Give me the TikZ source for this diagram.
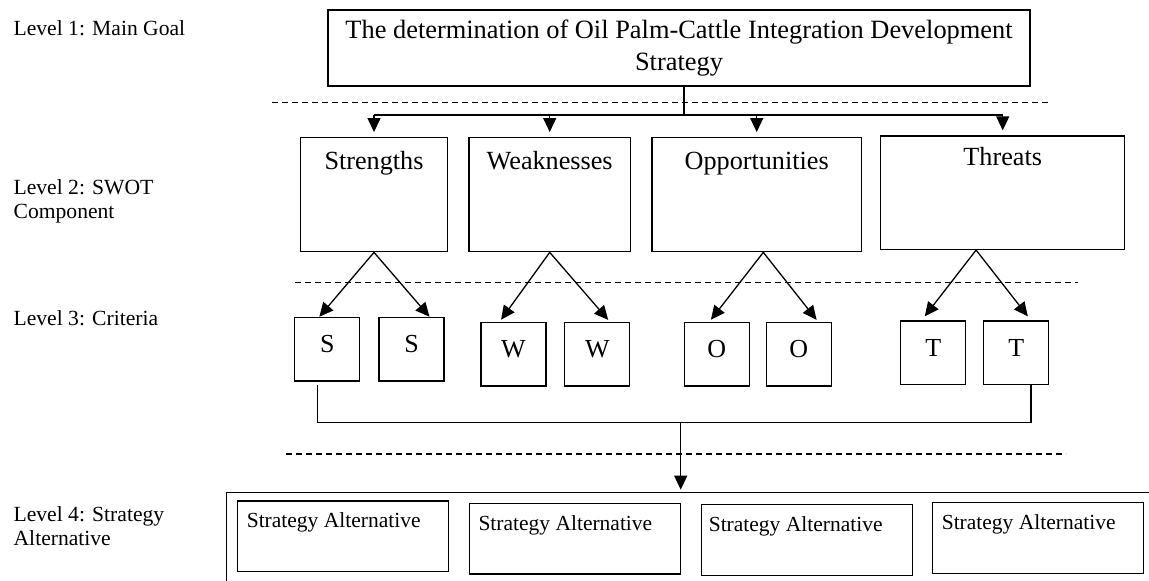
\documentclass[tikz,border=0pt]{standalone}
\usepackage{fontspec}
\setmainfont{Liberation Serif}
\usetikzlibrary{arrows.meta,calc}

\begin{document}
\begin{tikzpicture}[x=0.5pt,y=-0.5pt,line width=0.65pt,
  plainbox/.style={draw,rectangle,inner sep=0pt},
  goalbox/.style={plainbox,minimum width=351pt,minimum height=38pt,align=center,font=\fontsize{13.2}{16}\selectfont},
  swotbox/.style={plainbox,minimum height=57pt},
  swottext/.style={anchor=base,inner sep=0pt,yshift=-16pt,font=\fontsize{13.1}{15}\selectfont},
  critbox/.style={plainbox,minimum width=32.5pt,minimum height=31.8pt,text depth=5pt,font=\fontsize{13}{15}\selectfont},
  altbox/.style={plainbox,minimum width=105.5pt,minimum height=35.3pt},
  alttext/.style={anchor=base west,inner sep=0pt,xshift=4.5pt,yshift=-13.6pt,font=\fontsize{10.75}{12}\selectfont},
  lvl/.style={anchor=west,inner sep=0pt,align=left,font=\fontsize{10.8}{12}\selectfont},
  arr/.style={-{Triangle[width=6.5pt,length=7pt]}},
  levelsep/.style={dash pattern=on 3pt off 2pt,line width=0.6pt}]
  \clip (0,0) rectangle (1149,580);

  % level labels
  \node[lvl] (l1) at (13,28) {Level 1: Main Goal};
  \node[lvl] (l2) at (13,201.3) {Level 2: SWOT\\Component};
  \node[lvl] (l3) at (13,318) {Level 3: Criteria};
  \node[lvl] (l4) at (13,526.5) {Level 4: Strategy\\Alternative};

  % main goal
  \node[goalbox] (goal) at (679,48) {The determination of Oil Palm-Cattle Integration Development\\Strategy};

  % swot components
  \node[swotbox,minimum width=73.3pt,label={[swottext]north:Strengths}] (str) at (374,194.7) {};
  \node[swotbox,minimum width=80.7pt,label={[swottext]north:Weaknesses}] (wea) at (549.7,194.7) {};
  \node[swotbox,minimum width=104.7pt,label={[swottext]north:Opportunities}] (opp) at (756.7,194.7) {};
  \node[swotbox,minimum width=122pt,minimum height=56.7pt,label={[swottext,yshift=0.7pt]north:Threats}] (thr) at (1002.7,192.7) {};

  % criteria
  \node[critbox] (s1) at (327.3,349.2) {S};
  \node[critbox] (s2) at (411.5,349.2) {S};
  \node[critbox] (w1) at (513.5,354.3) {W};
  \node[critbox] (w2) at (597.3,354.3) {W};
  \node[critbox] (o1) at (716.7,354.3) {O};
  \node[critbox] (o2) at (798.8,354.3) {O};
  \node[critbox] (t1) at (933.3,352.7) {T};
  \node[critbox] (t2) at (1016.3,352.7) {T};

  % strategy alternatives
  \node[plainbox,minimum width=470pt,minimum height=60pt] (alts) at (696.7,552.3) {};
  \node[altbox,label={[alttext]north west:Strategy Alternative}] (a1) at (343.3,536.3) {};
  \node[altbox,label={[alttext]north west:Strategy Alternative}] (a2) at (575,538.8) {};
  \node[altbox,label={[alttext,xshift=-0.7pt]north west:Strategy Alternative}] (a3) at (806.7,540) {};
  \node[altbox,label={[alttext]north west:Strategy Alternative}] (a4) at (1038.3,538) {};

  % dashed level separators
  \draw[levelsep] (272,102.7) -- (1051.7,102.7);
  \draw[levelsep] (295,282.7) -- (1078,282.7);
  \draw[levelsep] (286,454) -- (1066,454);

  % goal to components
  \coordinate (bus) at (684,115);
  \draw (goal.south -| bus) -- (bus);
  \draw (bus -| str) -- (bus -| thr);
  \draw[arr,shorten >=2.5pt] (bus -| str) -- (str);
  \draw[arr,shorten >=2.5pt] (bus -| wea) -- (wea);
  \draw[arr,shorten >=2.5pt] (bus -| opp) -- (opp);
  \draw[arr,shorten >=2.5pt] (bus -| thr) -- (thr);

  % components to criteria
  \draw[arr] (str.south) -- ([xshift=-4pt]s1.north);
  \draw[arr] (str.south) -- ([xshift=9pt]s2.north);
  \draw[arr,shorten >=1.3pt] (wea.south) -- ([xshift=-7pt]w1.north);
  \draw[arr,shorten >=1.3pt] (wea.south) -- ([xshift=6.3pt]w2.north);
  \draw[arr,shorten >=1.3pt] ([xshift=3.3pt]opp.south) -- ([xshift=-3.7pt]o1.north);
  \draw[arr,shorten >=1.3pt] ([xshift=3.3pt]opp.south) -- ([xshift=9.7pt]o2.north);
  \draw[arr,shorten >=2.5pt] ([xshift=-13.3pt]thr.south) -- ([xshift=-5.8pt]t1.north);
  \draw[arr,shorten >=2.5pt] ([xshift=-13.3pt]thr.south) -- ([xshift=7.3pt]t2.north);

  % criteria to alternatives
  \coordinate (jn) at (680.7,422.7);
  \draw ([xshift=-5pt,yshift=-1.6pt]s1.south) |- ([xshift=7.35pt]t2.south |- jn) -- ([xshift=7.35pt]t2.south);
  \draw[arr,shorten >=1pt] (jn) -- (jn |- alts.north);
\end{tikzpicture}
\end{document}
